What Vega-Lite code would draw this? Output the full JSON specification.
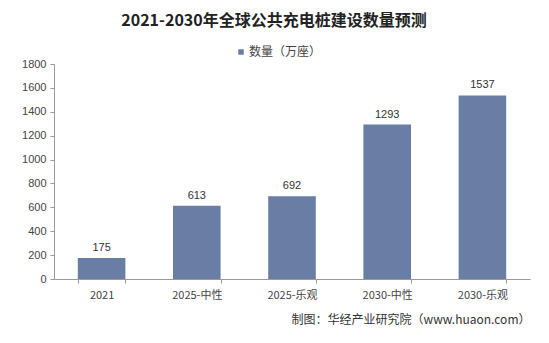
{
  "$schema": "https://vega.github.io/schema/vega-lite/v6.json",
  "autosize": "none",
  "width": 476,
  "height": 215,
  "padding": {"left": 54, "top": 64, "right": 19, "bottom": 64},
  "background": "white",
  "config": {"view": {"stroke": null}, "font": "Noto Sans CJK SC"},
  "title": {
    "text": "2021-2030年全球公共充电桩建设数量预测",
    "font": "Noto Sans CJK SC",
    "fontSize": 16,
    "fontWeight": "bold",
    "color": "#222222",
    "anchor": "middle",
    "dx": -18,
    "offset": 28,
    "dy": 11
  },
  "data": {
    "values": [
      {"category": "2021", "series": "数量（万座）", "value": 175},
      {"category": "2025-中性", "series": "数量（万座）", "value": 613},
      {"category": "2025-乐观", "series": "数量（万座）", "value": 692},
      {"category": "2030-中性", "series": "数量（万座）", "value": 1293},
      {"category": "2030-乐观", "series": "数量（万座）", "value": 1537}
    ]
  },
  "encoding": {
    "x": {
      "field": "category",
      "type": "nominal",
      "sort": null,
      "scale": {"paddingInner": 0.5, "paddingOuter": 0.25},
      "axis": {
        "title": "制图：华经产业研究院（www.huaon.com）",
        "titleFont": "Noto Sans CJK SC",
        "titleFontSize": 12,
        "titleFontWeight": "normal",
        "titleColor": "#333333",
        "titleAnchor": "end",
        "titleAlign": "right",
        "titlePadding": 14,
        "labelAngle": 0,
        "labelFontSize": 11,
        "labelColor": "#444444",
        "labelPadding": 6,
        "tickBand": "extent",
        "tickSize": 4,
        "tickColor": "#999999",
        "domainColor": "#999999"
      }
    },
    "y": {
      "field": "value",
      "type": "quantitative",
      "scale": {"domain": [0, 1800]},
      "axis": {
        "title": null,
        "format": "d",
        "values": [0, 200, 400, 600, 800, 1000, 1200, 1400, 1600, 1800],
        "grid": false,
        "labelFont": "Liberation Sans",
        "labelFontSize": 11,
        "labelColor": "#444444",
        "tickSize": 4,
        "tickColor": "#999999",
        "domainColor": "#999999",
        "labelPadding": 4
      }
    }
  },
  "layer": [
    {
      "mark": {"type": "bar", "color": "#6a7ea5"},
      "encoding": {
        "color": {
          "field": "series",
          "type": "nominal",
          "scale": {"range": ["#6a7ea5"]},
          "legend": {
            "title": null,
            "orient": "none",
            "legendX": 181,
            "legendY": -18,
            "symbolType": "square",
            "symbolSize": 30,
            "symbolOffset": 0,
            "labelOffset": 2,
            "labelFontSize": 12,
            "labelColor": "#444444",
            "labelFont": "Noto Sans CJK SC"
          }
        }
      }
    },
    {
      "mark": {"type": "text", "dy": -10, "fontSize": 11, "color": "#333333", "font": "Liberation Sans"},
      "encoding": {"text": {"field": "value", "type": "quantitative"}}
    }
  ]
}
